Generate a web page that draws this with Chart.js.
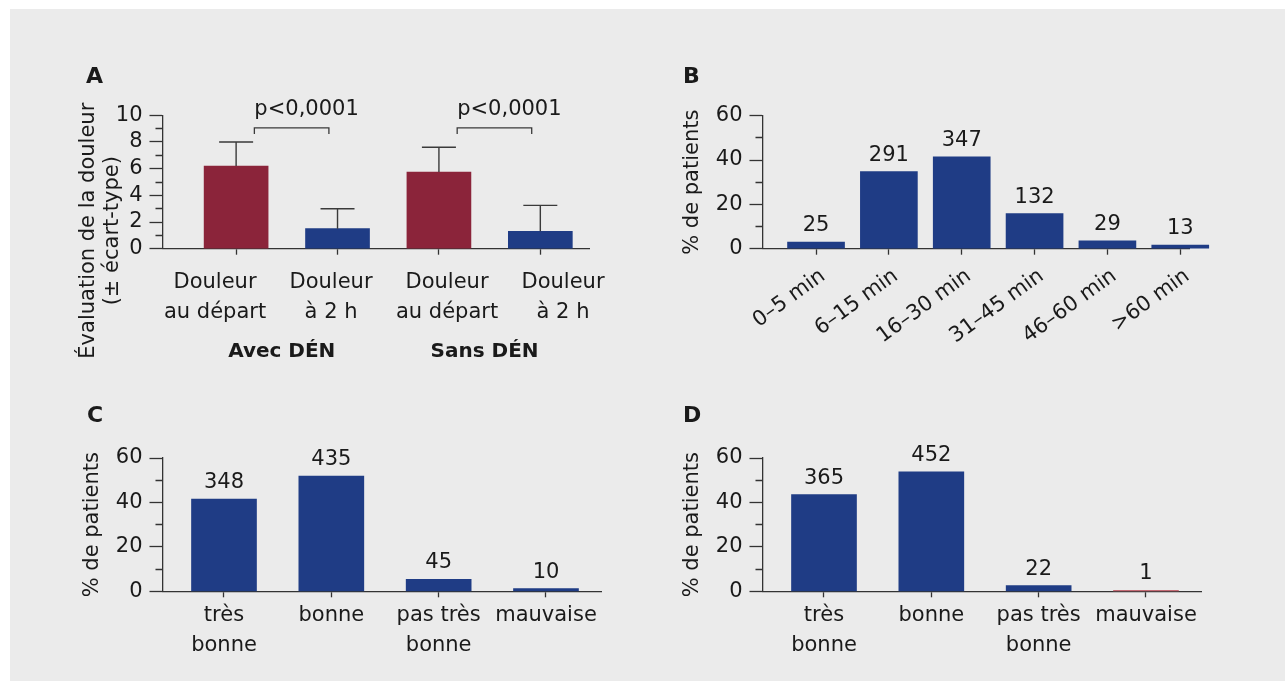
<!DOCTYPE html>
<html>
<head>
<meta charset="utf-8">
<script src="https://cdn.jsdelivr.net/npm/chart.js@4.4.1/dist/chart.umd.min.js"></script>
<style>
  html, body { margin: 0; padding: 0; background: #fff; }
  #panel { position: absolute; left: 10px; top: 9px; width: 1275px; height: 672px; background: #ebebeb; }
  canvas { position: absolute; }
</style>
</head>
<body>
<div id="panel"></div>
<canvas id="chartA" width="580" height="330" style="left:60px;top:50px"></canvas>
<canvas id="chartB" width="600" height="330" style="left:660px;top:50px"></canvas>
<canvas id="chartC" width="580" height="290" style="left:60px;top:390px"></canvas>
<canvas id="chartD" width="580" height="290" style="left:660px;top:390px"></canvas>
<script>
// A - pain score
const painLabels = [['Douleur', 'au départ'], ['Douleur', 'à 2 h'], ['Douleur', 'au départ'], ['Douleur', 'à 2 h']];
const painMeans = [6.2, 1.5, 5.75, 1.3];
const painSd = [1.8, 1.5, 1.85, 1.95];
const painColors = ['#8b243a', '#1f3c85', '#8b243a', '#1f3c85'];
const painGroups = ['Avec DÉN', 'Sans DÉN'];
const pValues = ['p<0,0001', 'p<0,0001'];

// B - delay
const delayLabels = ['0–5 min', '6–15 min', '16–30 min', '31–45 min', '46–60 min', '>60 min'];
const delayPercent = [3.0, 34.8, 41.5, 15.8, 3.5, 1.6];
const delayCounts = [25, 291, 347, 132, 29, 13];

// C, D - ratings
const ratingLabels = [['très', 'bonne'], 'bonne', ['pas très', 'bonne'], 'mauvaise'];
const ratingCPercent = [41.5, 51.9, 5.4, 1.2];
const ratingCCounts = [348, 435, 45, 10];
const ratingDPercent = [43.5, 53.8, 2.6, 0.1];
const ratingDCounts = [365, 452, 22, 1];

const textColor = '#1a1a1a';
const axisColor = '#333333';
const blue = '#1f3c85';
const red = '#8b243a';

Chart.defaults.font.family = '"DejaVu Sans", sans-serif';
Chart.defaults.font.size = 21;
Chart.defaults.color = textColor;
Chart.defaults.animation = false;
Chart.defaults.plugins.legend.display = false;
Chart.defaults.plugins.tooltip.enabled = false;


const panelLetter = {
    id: 'panelLetter',
    afterDraw(chart, args, opts) {
        const ctx = chart.ctx;
        ctx.save();
        ctx.font = 'bold 22px "DejaVu Sans"';
        ctx.fillStyle = textColor;
        ctx.textBaseline = 'alphabetic';
        ctx.fillText(opts.text, opts.x, opts.y);
        ctx.restore();
    }
};

const barCounts = {
    id: 'barCounts',
    afterDatasetsDraw(chart, args, opts) {
        if (!opts.counts) return;
        const ctx = chart.ctx;
        ctx.save();
        ctx.font = '21px "DejaVu Sans"';
        ctx.fillStyle = textColor;
        ctx.textAlign = 'center';
        ctx.textBaseline = 'alphabetic';
        chart.getDatasetMeta(0).data.forEach((bar, i) => {
            ctx.fillText(String(opts.counts[i]), bar.x, bar.y - 11);
        });
        ctx.restore();
    }
};

const errorBars = {
    id: 'errorBars',
    afterDatasetsDraw(chart, args, opts) {
        if (!opts.sd) return;
        const ctx = chart.ctx;
        const y = chart.scales.y;
        const data = chart.data.datasets[0].data;
        ctx.save();
        ctx.strokeStyle = '#3a3a3a';
        ctx.lineWidth = 1.4;
        chart.getDatasetMeta(0).data.forEach((bar, i) => {
            const top = y.getPixelForValue(data[i].y + opts.sd[i]);
            ctx.beginPath();
            ctx.moveTo(bar.x, bar.y);
            ctx.lineTo(bar.x, top);
            ctx.moveTo(bar.x - 17, top);
            ctx.lineTo(bar.x + 17, top);
            ctx.stroke();
        });
        ctx.restore();
    }
};

// brackets with p values, group names and the two line y title of panel A
const painExtras = {
    id: 'painExtras',
    afterDraw(chart) {
        const ctx = chart.ctx;
        const {x, y} = chart.scales;
        const area = chart.chartArea;
        ctx.save();
        ctx.fillStyle = textColor;
        ctx.strokeStyle = '#3a3a3a';
        ctx.lineWidth = 1.3;
        ctx.font = '21px "DejaVu Sans"';
        pValues.forEach((txt, k) => {
            const x1 = x.getPixelForValue(2 * k + 0.18);
            const x2 = x.getPixelForValue(2 * k + 0.915);
            const yb = y.getPixelForValue(9.05);
            const yl = y.getPixelForValue(8.6);
            ctx.beginPath();
            ctx.moveTo(x1, yl);
            ctx.lineTo(x1, yb);
            ctx.lineTo(x2, yb);
            ctx.lineTo(x2, yl);
            ctx.stroke();
            ctx.textAlign = 'left';
            ctx.textBaseline = 'alphabetic';
            ctx.fillText(txt, x1, yb - 13);
        });

        ctx.font = 'bold 20px "DejaVu Sans"';
        ctx.textAlign = 'center';
        ctx.textBaseline = 'middle';
        painGroups.forEach((g, k) => {
            ctx.fillText(g, x.getPixelForValue(2 * k + 0.45), area.bottom + 103);
        });

        ctx.font = '21px "DejaVu Sans"';
        ctx.translate(area.left - 74, area.bottom - 18);
        ctx.rotate(-Math.PI / 2);
        ctx.fillText('Évaluation de la douleur', 0, 0);
        ctx.fillText('(± écart-type)', 0, 24);
        ctx.restore();
    }
};


function yAxis(max, step, major, title) {
    return {
        min: 0,
        max: max,
        afterFit: (s) => { s.width = 102.5; },
        ticks: {
            stepSize: step,
            autoSkip: false,
            padding: 7,
            callback: (v) => (v % major === 0 ? v : '')
        },
        grid: {
            drawOnChartArea: false,
            tickLength: 13,
            tickColor: axisColor,
            tickWidth: 1.3,
            tickBorderDash: (c) => (c.tick && c.tick.value % major !== 0 ? [0, 6, 7, 20] : [])
        },
        border: { color: axisColor, width: 1.3 },
        title: {
            display: !!title,
            text: title || '',
            padding: { top: 20, bottom: 0 },
            font: { size: 21 }
        }
    };
}

function catAxis(n, min, max, labels, more) {
    return Object.assign({
        type: 'linear',
        offset: false,
        min: min,
        max: max,
        afterBuildTicks: (s) => { s.ticks = labels.slice(0, n).map((_, i) => ({ value: i })); },
        ticks: {
            autoSkip: false,
            maxRotation: 0,
            padding: 3.5,
            font: { size: 21, lineHeight: '29.5px' },
            callback: (v) => labels[v]
        },
        grid: { offset: false, drawOnChartArea: false, tickLength: 6, tickColor: axisColor, tickWidth: 1.3 },
        border: { color: axisColor, width: 1.3 }
    }, more);
}

function points(values) {
    return values.map((v, i) => ({ x: i, y: v }));
}


// A
new Chart(document.getElementById('chartA'), {
    type: 'bar',
    data: {
        datasets: [{
            data: points(painMeans),
            backgroundColor: painColors,
            barThickness: 64,
            clip: false
        }]
    },
    options: {
        responsive: false,
        layout: { padding: { left: 0, top: 65.3, right: 51, bottom: 0 } },
        scales: {
            x: catAxis(4, -0.726, 3.48, painLabels, {
                weight: 0,
                ticks: { display: false }
            }),
            xl: {
                type: 'linear',
                position: 'bottom',
                offset: false,
                weight: 1,
                min: -0.453,
                max: 3.224,
                afterBuildTicks: (s) => { s.ticks = painLabels.map((_, i) => ({ value: i })); },
                afterFit: (s) => { s.height = 125.3; },
                ticks: {
                    autoSkip: false,
                    maxRotation: 0,
                    padding: 13.5,
                    font: { size: 21, lineHeight: '29.5px' },
                    callback: (v) => painLabels[v]
                },
                grid: { display: false, drawTicks: false, offset: false },
                border: { display: false }
            },
            y: yAxis(10, 1, 2, null)
        },
        plugins: {
            panelLetter: { text: 'A', x: 26, y: 33 },
            errorBars: { sd: painSd }
        }
    },
    plugins: [panelLetter, errorBars, painExtras]
});

// B
new Chart(document.getElementById('chartB'), {
    type: 'bar',
    data: {
        datasets: [{
            data: points(delayPercent),
            backgroundColor: blue,
            barThickness: 57,
            clip: false
        }]
    },
    options: {
        responsive: false,
        layout: { padding: { left: 0, top: 65.7, right: 71, bottom: 0 } },
        scales: {
            x: catAxis(6, -0.735, 5.12, delayLabels, {
                afterFit: (s) => { s.height = 131.3; },
                ticks: {
                    autoSkip: false,
                    minRotation: 36,
                    maxRotation: 36,
                    padding: 9,
                    labelOffset: 7,
                    callback: (v) => delayLabels[v]
                }
            }),
            y: yAxis(60, 10, 20, '% de patients')
        },
        plugins: {
            panelLetter: { text: 'B', x: 23, y: 33 },
            barCounts: { counts: delayCounts }
        }
    },
    plugins: [panelLetter, barCounts]
});

// C and D
function ratingChart(id, values, counts, colors, letter) {
    new Chart(document.getElementById(id), {
        type: 'bar',
        data: {
            datasets: [{
                data: points(values),
                backgroundColor: colors,
                barThickness: 65,
                minBarLength: 1,
                clip: false
            }]
        },
        options: {
            responsive: false,
            layout: { padding: { left: 0, top: 68, right: 38.2, bottom: 0 } },
            scales: {
                x: catAxis(4, -0.573, 3.52, ratingLabels, {
                    afterFit: (s) => { s.height = 88.7; }
                }),
                y: yAxis(60, 10, 20, '% de patients')
            },
            plugins: {
                panelLetter: { text: letter, x: letter === 'C' ? 27 : 23, y: 32 },
                barCounts: { counts: counts }
            }
        },
        plugins: [panelLetter, barCounts]
    });
}

ratingChart('chartC', ratingCPercent, ratingCCounts, blue, 'C');
ratingChart('chartD', ratingDPercent, ratingDCounts, [blue, blue, blue, '#c46a74'], 'D');
</script>
</body>
</html>
